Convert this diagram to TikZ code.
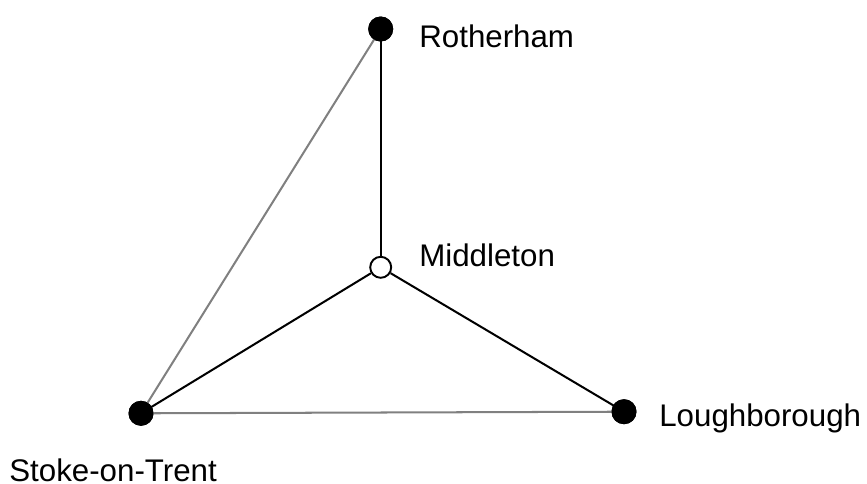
\documentclass[tikz,border=0pt]{standalone}
\usepackage{fontspec}
\setmainfont{Liberation Sans}
\begin{document}
\begin{tikzpicture}[x=0.02cm, y=-0.02cm,
    every node/.style={font=\fontsize{17.8}{20}\selectfont},
    town/.style={circle, fill=black, inner sep=0pt, minimum size=0.5cm},
    hub/.style={circle, draw=black, fill=white, line width=1.1pt, inner sep=0pt, minimum size=0.42cm},
    townlabel/.style={anchor=base west, inner sep=0pt},
    road/.style={line width=1.15pt, black},
    link/.style={line width=1.15pt, gray}]
	\useasboundingbox (0,0) rectangle (867,484);
	
	% towns
	\node[town] (roth) at (380.7, 29) {};
	\node[hub]  (midd) at (380.7, 267.3) {};
	\node[town] (stoke) at (141, 413.3) {};
	\node[town] (lough) at (624, 411.7) {};
	
	% labels
	\node[townlabel] (rothlab)  at (419, 47.3)  {Rotherham};
	\node[townlabel] (middlab)  at (419, 266.7) {Middleton};
	\node[townlabel] (loughlab) at (659, 426.7) {Loughborough};
	\node[townlabel] (stokelab) at (9, 481.5)  {Stoke-on-Trent};
	
	% direct links (grey)
	\draw[link] (stoke.center) -- (roth.center);
	\draw[link] (stoke.center) -- (lough.center);
	
	% links through Middleton
	\draw[road] (midd) -- (roth.center);
	\draw[road] (midd) -- (stoke.center);
	\draw[road] (midd) -- (lough.center);
	
	% dots on top
	\node[town] at (roth) {};
	\node[town] at (stoke) {};
	\node[town] at (lough) {};
\end{tikzpicture}
\end{document}
